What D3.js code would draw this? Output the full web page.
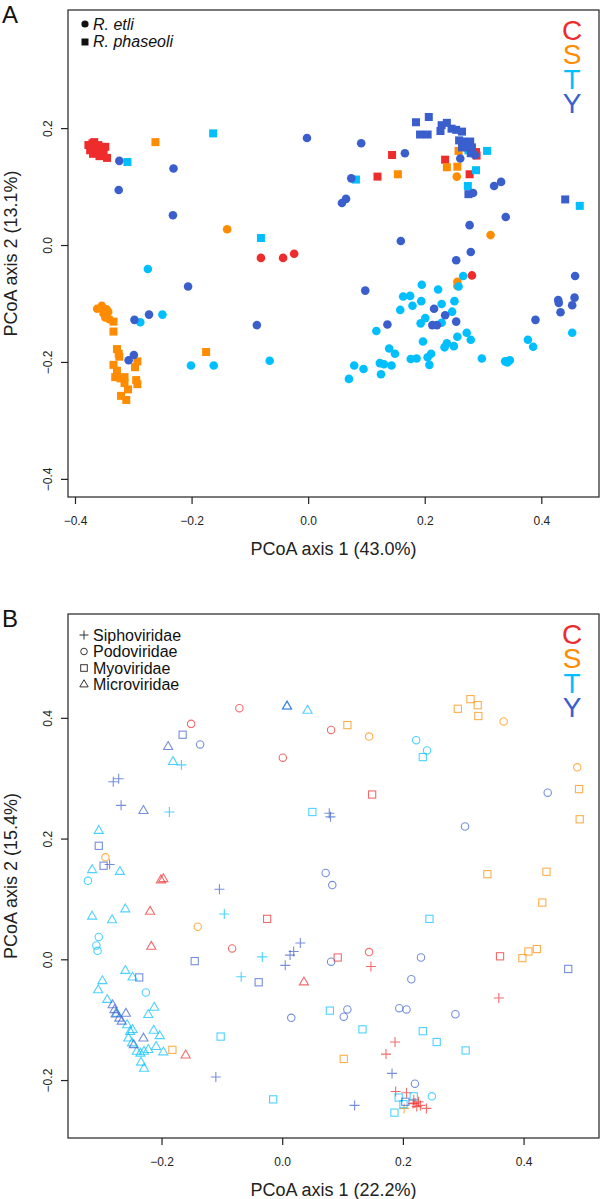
<!DOCTYPE html>
<html>
<head>
<meta charset="utf-8">
<script src="https://cdn.jsdelivr.net/npm/d3@7"></script>
<style>
  body { margin: 0; background: #fff; }
  svg { display: block; font-family: "Liberation Sans", Arial, Helvetica, sans-serif; }
</style>
</head>
<body>
<div id="chart"></div>
<script>
// ---------- data : panel A (host species x source) ----------
const groups = ["C", "S", "T", "Y"];

// R. etli (circles)
const etliC = [[-0.081,-0.022],[-0.043,-0.022],[-0.024,-0.015],[0.281,-0.052]];
const etliS = [[-0.139,0.027],[0.255,0.117],[0.313,0.017],[0.256,-0.063],[0.256,-0.070],
  [-0.362,-0.109],[-0.354,-0.104],[-0.346,-0.110],[-0.343,-0.114],[-0.351,-0.117],[-0.348,-0.124],[-0.341,-0.127]];
const etliT = [[-0.275,-0.041],[-0.288,-0.132],[-0.250,-0.119],[-0.201,-0.206],[-0.162,-0.206],[-0.066,-0.198],
  [0.266,-0.053],[0.258,-0.071],[0.195,-0.068],[0.223,-0.076],[0.163,-0.088],[0.175,-0.087],[0.194,-0.096],
  [0.251,-0.096],[0.158,-0.111],[0.179,-0.104],[0.229,-0.101],[0.247,-0.114],[0.201,-0.125],[0.193,-0.134],
  [0.229,-0.133],[0.117,-0.147],[0.272,-0.150],[0.256,-0.157],[0.279,-0.162],[0.197,-0.165],[0.238,-0.168],
  [0.234,-0.175],[0.250,-0.173],[0.139,-0.177],[0.149,-0.186],[0.176,-0.195],[0.186,-0.194],[0.205,-0.192],
  [0.211,-0.186],[0.208,-0.205],[0.298,-0.194],[0.079,-0.206],[0.095,-0.212],[0.123,-0.202],[0.130,-0.204],
  [0.143,-0.206],[0.125,-0.221],[0.070,-0.229],[0.338,-0.199],[0.346,-0.197],[0.342,-0.201],[0.377,-0.162],
  [0.386,-0.174],[0.453,-0.150]];
const etliY = [[-0.324,0.144],[-0.231,0.131],[-0.325,0.094],[-0.232,0.051],[-0.206,-0.071],
  [-0.002,0.183],[0.091,0.174],[0.166,0.157],[0.074,0.114],[0.058,0.072],[0.065,0.079],[0.261,0.148],
  [0.286,0.154],[0.283,0.089],[0.319,0.101],[0.331,0.108],[0.339,0.048],[0.277,0.034],[0.159,0.007],
  [0.279,-0.012],[0.254,-0.026],[0.098,-0.078],[0.458,-0.053],[0.457,-0.090],[0.429,-0.094],[0.216,-0.109],
  [0.235,-0.120],[0.254,-0.131],[0.136,-0.136],[0.213,-0.137],[0.221,-0.137],[0.390,-0.128],[0.430,-0.099],
  [0.433,-0.115],[0.453,-0.103],[-0.298,-0.128],[-0.273,-0.119],[-0.308,-0.197],[-0.299,-0.188],[-0.088,-0.137]];

// R. phaseoli (squares)
const phaseoliC = [[-0.377,0.171],[-0.374,0.162],[-0.370,0.174],[-0.369,0.156],[-0.365,0.168],[-0.363,0.159],
  [-0.360,0.171],[-0.358,0.152],[-0.355,0.164],[-0.351,0.157],[-0.348,0.168],[-0.345,0.149],[-0.372,0.168],
  [-0.362,0.164],[-0.367,0.176],[-0.357,0.161],
  [0.144,0.154],[0.119,0.117],[0.289,0.153],[0.235,0.146],[0.277,0.121],[0.288,0.159]];
const phaseoliS = [[-0.262,0.176],[0.154,0.121],[0.258,0.161],[0.238,0.133],[0.256,0.134],[-0.175,-0.183],
  [-0.334,-0.131],[-0.334,-0.148],[-0.328,-0.178],[-0.324,-0.191],[-0.325,-0.186],[-0.334,-0.205],
  [-0.328,-0.215],[-0.331,-0.226],[-0.322,-0.228],[-0.315,-0.226],[-0.315,-0.236],[-0.309,-0.247],
  [-0.321,-0.258],[-0.312,-0.265],[-0.293,-0.199],[-0.297,-0.209],[-0.295,-0.231],[-0.293,-0.238]];
const phaseoliT = [[-0.163,0.191],[-0.310,0.142],[-0.081,0.012],[0.082,0.112],[0.274,0.101],[0.466,0.067],
  [0.275,0.162],[0.307,0.161],[0.288,0.128]];
const phaseoliY = [[0.185,0.210],[0.207,0.219],[0.192,0.189],[0.205,0.189],[0.229,0.205],[0.238,0.209],
  [0.227,0.195],[0.246,0.199],[0.254,0.197],[0.264,0.194],[0.259,0.179],[0.266,0.177],[0.278,0.177],
  [0.273,0.167],[0.281,0.167],[0.264,0.167],[0.279,0.157],[0.275,0.087],[0.441,0.078]];

// ---------- data : panel B (phage family), [x, y, source] ----------
const siphoviridae = [
  [0.147,-0.012,"C"],[0.359,-0.064,"C"],[0.187,-0.137,"C"],[0.172,-0.157,"C"],[0.188,-0.219,"C"],
  [0.206,-0.221,"C"],[0.220,-0.238,"C"],[0.226,-0.236,"C"],[0.223,-0.244,"C"],[0.229,-0.242,"C"],
  [0.217,-0.239,"C"],[0.239,-0.247,"C"],[0.218,-0.233,"C"],
  [0.202,-0.247,"S"],
  [-0.167,0.322,"T"],[-0.187,0.244,"T"],[-0.096,0.075,"T"],[-0.033,0.004,"T"],[-0.068,-0.029,"T"],
  [-0.280,0.294,"Y"],[-0.271,0.299,"Y"],[-0.267,0.255,"Y"],[-0.286,0.157,"Y"],[-0.104,0.116,"Y"],
  [0.078,0.242,"Y"],[0.080,0.236,"Y"],[0.005,-0.010,"Y"],[0.013,0.007,"Y"],[0.019,0.013,"Y"],
  [0.030,0.027,"Y"],[-0.110,-0.195,"Y"],[0.182,-0.189,"Y"],[0.120,-0.242,"Y"]];
const podoviridae = [
  [-0.151,0.390,"C"],[-0.071,0.416,"C"],[0.001,0.334,"C"],[0.081,0.380,"C"],[-0.083,0.018,"C"],[0.144,0.012,"C"],
  [-0.293,0.169,"S"],[0.144,0.369,"S"],[0.367,0.394,"S"],[0.489,0.318,"S"],[-0.140,0.054,"S"],
  [-0.322,0.130,"T"],[0.222,0.363,"T"],[0.240,0.346,"T"],[-0.304,0.037,"T"],[-0.308,0.023,"T"],
  [-0.306,0.014,"T"],[-0.226,-0.055,"T"],[0.248,-0.227,"T"],
  [-0.136,0.356,"Y"],[0.440,0.276,"Y"],[0.303,0.220,"Y"],[0.072,0.143,"Y"],[0.083,0.123,"Y"],
  [0.015,-0.097,"Y"],[0.081,-0.004,"Y"],[0.230,0.003,"Y"],[0.214,-0.033,"Y"],[0.108,-0.083,"Y"],
  [0.102,-0.095,"Y"],[0.194,-0.081,"Y"],[0.206,-0.083,"Y"],[0.287,-0.091,"Y"],[0.220,-0.206,"Y"]];
const myoviridae = [
  [0.149,0.273,"C"],[-0.025,0.067,"C"],[0.092,0.003,"C"],[0.361,0.005,"C"],
  [0.108,0.388,"S"],[0.291,0.415,"S"],[0.312,0.431,"S"],[0.324,0.421,"S"],[0.325,0.403,"S"],
  [0.492,0.282,"S"],[0.493,0.232,"S"],[0.340,0.141,"S"],[0.438,0.145,"S"],[0.431,0.094,"S"],
  [0.398,0.002,"S"],[0.408,0.013,"S"],[0.422,0.017,"S"],[-0.182,-0.150,"S"],[0.102,-0.165,"S"],
  [0.233,0.335,"T"],[0.050,0.244,"T"],[0.244,0.067,"T"],[0.079,-0.085,"T"],[0.133,-0.116,"T"],
  [0.233,-0.119,"T"],[0.256,-0.137,"T"],[0.304,-0.151,"T"],[-0.102,-0.128,"T"],[-0.015,-0.232,"T"],
  [0.193,-0.229,"T"],[0.218,-0.227,"T"],[0.201,-0.240,"T"],[0.186,-0.254,"T"],
  [-0.165,0.372,"Y"],[-0.304,0.188,"Y"],[-0.296,0.155,"Y"],[-0.145,-0.003,"Y"],[-0.237,-0.030,"Y"],
  [-0.039,-0.038,"Y"],[0.474,-0.016,"Y"],[0.204,-0.236,"Y"]];
const microviridae = [
  [-0.201,0.131,"C"],[-0.197,0.133,"C"],[-0.219,0.079,"C"],[-0.217,0.021,"C"],[-0.160,-0.159,"C"],[0.036,-0.038,"C"],
  [0.008,0.419,"T"],[-0.181,0.327,"T"],[0.042,0.412,"T"],[-0.304,0.213,"T"],[-0.315,0.148,"T"],
  [-0.269,0.145,"T"],[-0.315,0.071,"T"],[-0.282,0.065,"T"],[-0.260,0.083,"T"],[-0.260,-0.019,"T"],
  [-0.248,-0.030,"T"],[-0.298,-0.036,"T"],[-0.305,-0.051,"T"],[-0.290,-0.067,"T"],[-0.274,-0.090,"T"],
  [-0.257,-0.109,"T"],[-0.252,-0.120,"T"],[-0.248,-0.117,"T"],[-0.255,-0.131,"T"],[-0.249,-0.139,"T"],
  [-0.212,-0.080,"T"],[-0.222,-0.092,"T"],[-0.213,-0.118,"T"],[-0.203,-0.127,"T"],[-0.209,-0.145,"T"],
  [-0.197,-0.154,"T"],[-0.241,-0.153,"T"],[-0.235,-0.156,"T"],[-0.229,-0.153,"T"],[-0.222,-0.150,"T"],
  [-0.234,-0.171,"T"],[-0.229,-0.181,"T"],
  [0.008,0.419,"Y"],[-0.189,0.352,"Y"],[-0.230,0.246,"Y"],[-0.281,-0.076,"Y"],[-0.278,-0.084,"Y"],
  [-0.276,-0.091,"Y"],[-0.270,-0.098,"Y"],[-0.266,-0.103,"Y"],[-0.259,-0.090,"Y"],[-0.246,-0.142,"Y"],
  [-0.230,-0.131,"Y"]];

// axis ticks and labels
const xTicksA = [-0.4, -0.2, 0.0, 0.2, 0.4];
const yTicksA = [-0.4, -0.2, 0.0, 0.2];
const xTicksB = [-0.2, 0.0, 0.2, 0.4];
const yTicksB = [-0.2, 0.0, 0.2, 0.4];
const xTitleA = "PCoA axis 1 (43.0%)", yTitleA = "PCoA axis 2 (13.1%)";
const xTitleB = "PCoA axis 1 (22.2%)", yTitleB = "PCoA axis 2 (15.4%)";
const hostLabels = ["R. etli", "R. phaseoli"];
const familyLabels = ["Siphoviridae", "Podoviridae", "Myoviridae", "Microviridae"];

// ---------- styles ----------
const color = {C: "#EE2C2C", S: "#FF8C00", T: "#00BFFF", Y: "#3A5FCD"};
const fmt = d3.format(".1f");

var svg = d3.select("#chart").append("svg")
    .attr("width", 601)
    .attr("height", 1199);

// Frame, axes and titles of one panel
function drawFrame(x, y, xTicks, yTicks, xTitle, yTitle, letter) {
  var x0 = x.range()[0], x1 = x.range()[1],
      y0 = y.range()[1], y1 = y.range()[0];
  var g = svg.append("g");

  g.append("rect")
      .attr("x", x0).attr("y", y0)
      .attr("width", x1 - x0).attr("height", y1 - y0)
      .attr("fill", "none").attr("stroke", "#222").attr("stroke-width", 1.2);

  var gx = g.append("g")
      .attr("transform", "translate(0," + y1 + ")")
      .call(d3.axisBottom(x).tickValues(xTicks).tickSize(7).tickFormat(fmt));
  gx.select(".domain").remove();
  gx.selectAll(".tick line").attr("stroke", "#222").attr("stroke-width", 1.2);
  gx.selectAll(".tick text")
      .attr("y", 28).attr("dy", null)
      .attr("font-size", 12).attr("fill", "#222");

  var gy = g.append("g")
      .attr("transform", "translate(" + x0 + ",0)")
      .call(d3.axisLeft(y).tickValues(yTicks).tickSize(7).tickFormat(fmt));
  gy.select(".domain").remove();
  gy.selectAll(".tick line").attr("stroke", "#222").attr("stroke-width", 1.2);
  gy.selectAll(".tick text")
      .attr("x", 0).attr("y", -16).attr("dy", null)
      .attr("transform", "rotate(-90)")
      .attr("text-anchor", "middle")
      .attr("font-size", 12).attr("fill", "#222");

  g.append("text")
      .attr("x", (x0 + x1) / 2).attr("y", y1 + 58)
      .attr("text-anchor", "middle").attr("font-size", 18).attr("fill", "#222")
      .text(xTitle);

  g.append("text")
      .attr("transform", "translate(17," + (y0 + y1) / 2 + ") rotate(-90)")
      .attr("text-anchor", "middle").attr("font-size", 18).attr("fill", "#222")
      .text(yTitle);

  g.append("text")
      .attr("x", 2).attr("y", y0 + 13)
      .attr("font-size", 24).attr("fill", "#111")
      .text(letter);

  // C S T Y colour key, stacked tightly as one text block
  g.append("text")
      .attr("text-anchor", "middle").attr("font-size", 28)
    .selectAll("tspan")
      .data(groups)
      .join("tspan")
      .attr("x", x1 - 27).attr("y", (d, i) => y0 + 30 + i * 24.4)
      .attr("fill", d => color[d])
      .text(d => d);
}

// ---------------- Panel A ----------------
var xA = d3.scaleLinear().domain([-0.412, 0.499]).range([68, 599]);
var yA = d3.scaleLinear().domain([-0.431, 0.402]).range([497, 10]);
drawFrame(xA, yA, xTicksA, yTicksA, xTitleA, yTitleA, "A");

var gA = svg.append("g");
var etli = [["C", etliC], ["S", etliS], ["T", etliT], ["Y", etliY]];
var phaseoli = [["C", phaseoliC], ["S", phaseoliS], ["T", phaseoliT], ["Y", phaseoliY]];

phaseoli.forEach(function(p) {
  gA.selectAll(null)
      .data(p[1])
      .join("rect")
      .attr("x", d => xA(d[0]) - 4).attr("y", d => yA(d[1]) - 4)
      .attr("width", 8).attr("height", 8)
      .attr("fill", color[p[0]]);
});
etli.forEach(function(p) {
  gA.selectAll(null)
      .data(p[1])
      .join("circle")
      .attr("cx", d => xA(d[0])).attr("cy", d => yA(d[1]))
      .attr("r", 4.3)
      .attr("fill", color[p[0]]);
});

// host legend
var legA = svg.append("g")
    .attr("transform", "translate(" + (xA.range()[0] + 17) + "," + (yA.range()[1] + 14) + ")");
legA.append("circle").attr("cx", 0).attr("cy", 0).attr("r", 3.6).attr("fill", "#111");
legA.append("rect").attr("x", -3.5).attr("y", 14.5).attr("width", 7).attr("height", 7).attr("fill", "#111");
legA.selectAll("text")
    .data(hostLabels)
    .join("text")
    .attr("x", 8).attr("y", (d, i) => 5.5 + i * 17.5)
    .attr("font-size", 16).attr("font-style", "italic").attr("fill", "#111")
    .text(d => d);

// ---------------- Panel B ----------------
var xB = d3.scaleLinear().domain([-0.355, 0.525]).range([68, 599]);
var yB = d3.scaleLinear().domain([-0.296, 0.572]).range([1138, 614]);
drawFrame(xB, yB, xTicksB, yTicksB, xTitleB, yTitleB, "B");

function plusPath(cx, cy, r) {
  return "M" + (cx - r) + "," + cy + "H" + (cx + r) + "M" + cx + "," + (cy - r) + "V" + (cy + r);
}
var tri = d3.symbol().type(d3.symbolTriangle).size(36);

var gB = svg.append("g")
    .attr("fill", "none")
    .attr("stroke-width", 1.1)
    .attr("stroke-opacity", 0.7);

gB.selectAll("path.sipho")
    .data(siphoviridae)
    .join("path")
    .attr("class", "sipho")
    .attr("d", d => plusPath(xB(d[0]), yB(d[1]), 5))
    .attr("stroke", d => color[d[2]]);

gB.selectAll("circle.podo")
    .data(podoviridae)
    .join("circle")
    .attr("class", "podo")
    .attr("cx", d => xB(d[0])).attr("cy", d => yB(d[1])).attr("r", 3.7)
    .attr("stroke", d => color[d[2]]);

gB.selectAll("rect.myo")
    .data(myoviridae)
    .join("rect")
    .attr("class", "myo")
    .attr("x", d => xB(d[0]) - 3.6).attr("y", d => yB(d[1]) - 3.6)
    .attr("width", 7.2).attr("height", 7.2)
    .attr("stroke", d => color[d[2]]);

gB.selectAll("path.micro")
    .data(microviridae)
    .join("path")
    .attr("class", "micro")
    .attr("transform", d => "translate(" + xB(d[0]) + "," + yB(d[1]) + ")")
    .attr("d", tri)
    .attr("stroke", d => color[d[2]]);

// family legend
var legB = svg.append("g")
    .attr("transform", "translate(" + (xB.range()[0] + 16) + "," + (yB.range()[1] + 21) + ")")
    .attr("fill", "none").attr("stroke", "#333").attr("stroke-width", 1);
legB.append("path").attr("d", plusPath(0, 0, 4.5));
legB.append("circle").attr("cx", 0).attr("cy", 16.5).attr("r", 3.3);
legB.append("rect").attr("x", -3.3).attr("y", 29.7).attr("width", 6.6).attr("height", 6.6);
legB.append("path").attr("transform", "translate(0,49.5)").attr("d", d3.symbol().type(d3.symbolTriangle).size(30));
legB.selectAll("text")
    .data(familyLabels)
    .join("text")
    .attr("x", 9).attr("y", (d, i) => 5.5 + i * 16.5)
    .attr("stroke", "none").attr("fill", "#111").attr("font-size", 16)
    .text(d => d);
</script>
</body>
</html>
